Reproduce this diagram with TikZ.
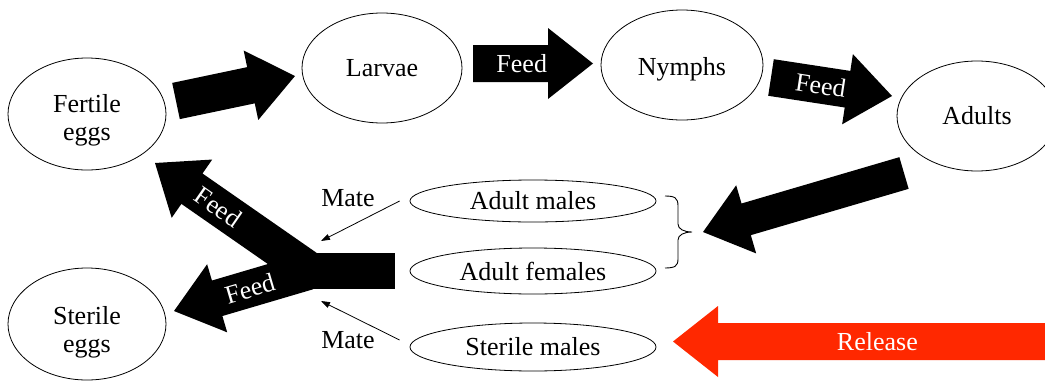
\documentclass[tikz,border=0pt]{standalone}
\usepackage{fontspec}
\setmainfont{Liberation Serif}
\usetikzlibrary{calc,shapes.geometric,arrows.meta}
\definecolor{releasered}{RGB}{255,40,0}
\newcommand{\fashaft}{18.5pt}
\newcommand{\fahead}{35.5pt}
\newcommand{\faheadlen}{45pt}
\newcommand{\fatarrow}[5][black]{%
  \coordinate (fa-j) at ($(#3)!\faheadlen!(#2)$);
  \fill [#1] ($(#2)!\fashaft!90:(#3)$) -- ($(fa-j)!\fashaft!-90:(#2)$)
    -- ($(fa-j)!\fahead!-90:(#2)$) -- (#3) -- ($(fa-j)!\fahead!90:(#2)$)
    -- ($(fa-j)!\fashaft!90:(#2)$) -- ($(#2)!\fashaft!-90:(#3)$) -- cycle;
  \path (#2) -- (fa-j) node [pos=#4, sloped, text=white] (#2-lbl) {#5};
}
\newcommand{\lowered}[2]{\raisebox{#1}[\height][\depth]{#2}}
\newcommand{\twolines}[3]{\lowered{#1}{\begin{tabular}{@{}c@{}}#2\\#3\end{tabular}}}
\begin{document}
\begin{tikzpicture}[x=1pt,y=-1pt,
  every node/.style={font=\fontsize{26}{28}\selectfont},
  stage/.style={draw, ellipse, line width=0.8pt, inner sep=0pt, align=center},
  mate/.style={-{Triangle[length=9pt,width=6pt]}, line width=0.8pt}]
\useasboundingbox (0,0) rectangle (1045,381);
\node [stage, minimum width=158, minimum height=112] (fert) at (87,114) {\twolines{-7pt}{Fertile}{eggs}};
\node [stage, minimum width=160, minimum height=110] (larv) at (382,68) {Larvae};
\node [stage, minimum width=162, minimum height=110] (nymph) at (682,65) {\lowered{-4pt}{Nymphs}};
\node [stage, minimum width=160, minimum height=110] (adult) at (977,116) {Adults};
\node [stage, minimum width=158, minimum height=112] (steggs) at (87,324) {\twolines{-9pt}{Sterile}{eggs}};
\node [stage, minimum width=246, minimum height=42] (amale) at (533,201) {Adult males};
\node [stage, minimum width=246, minimum height=46] (afemale) at (533,271) {Adult females};
\node [stage, minimum width=246, minimum height=48] (smale) at (533,347) {Sterile males};
\coordinate (a1t) at (176,101);
\coordinate (a1h) at (295,76);
\coordinate (a2t) at (473,63.5);
\coordinate (a2h) at (593,63.5);
\coordinate (a3t) at (771,77.5);
\coordinate (a3h) at (892,96);
\coordinate (a4t) at (904,173);
\coordinate (a4h) at (703,232);
\coordinate (a5t) at (1050,341.5);
\coordinate (a5h) at (673,341.5);
\coordinate (y1t) at (306,268);
\coordinate (y1h) at (155,163);
\coordinate (y2t) at (308,271.5);
\coordinate (y2h) at (174,311);
\fatarrow{a1t}{a1h}{0.5}{}
\fatarrow{a2t}{a2h}{0.65}{Feed}
\fatarrow{a3t}{a3h}{0.65}{Feed}
{\renewcommand{\fashaft}{16.5pt}\fatarrow{a4t}{a4h}{0.5}{}}
\fatarrow[releasered]{a5t}{a5h}{0.52}{Release}
\fatarrow{y1t}{y1h}{0.77}{Feed}
\fatarrow{y2t}{y2h}{0.64}{Feed}
\fill (305,253) rectangle (395,289);
\draw [line width=0.9pt] (665,196) .. controls (675,196) and (678,198) .. (678,206) -- (678,224)
  .. controls (678,229) and (684,232) .. (692,232) .. controls (684,232) and (678,235) .. (678,240)
  -- (678,259) .. controls (678,266) and (675,268) .. (665,268);
\coordinate (mtA) at (321,241);
\coordinate (mtB) at (321,301);
\draw [mate] ([xshift=-10pt]amale.west) -- (mtA);
\draw [mate] ([shift={(-10,-7)}]smale.west) -- (mtB);
\node (mate1) at (348,198) {Mate};
\node (mate2) at (348,340) {Mate};
\end{tikzpicture}
\end{document}
